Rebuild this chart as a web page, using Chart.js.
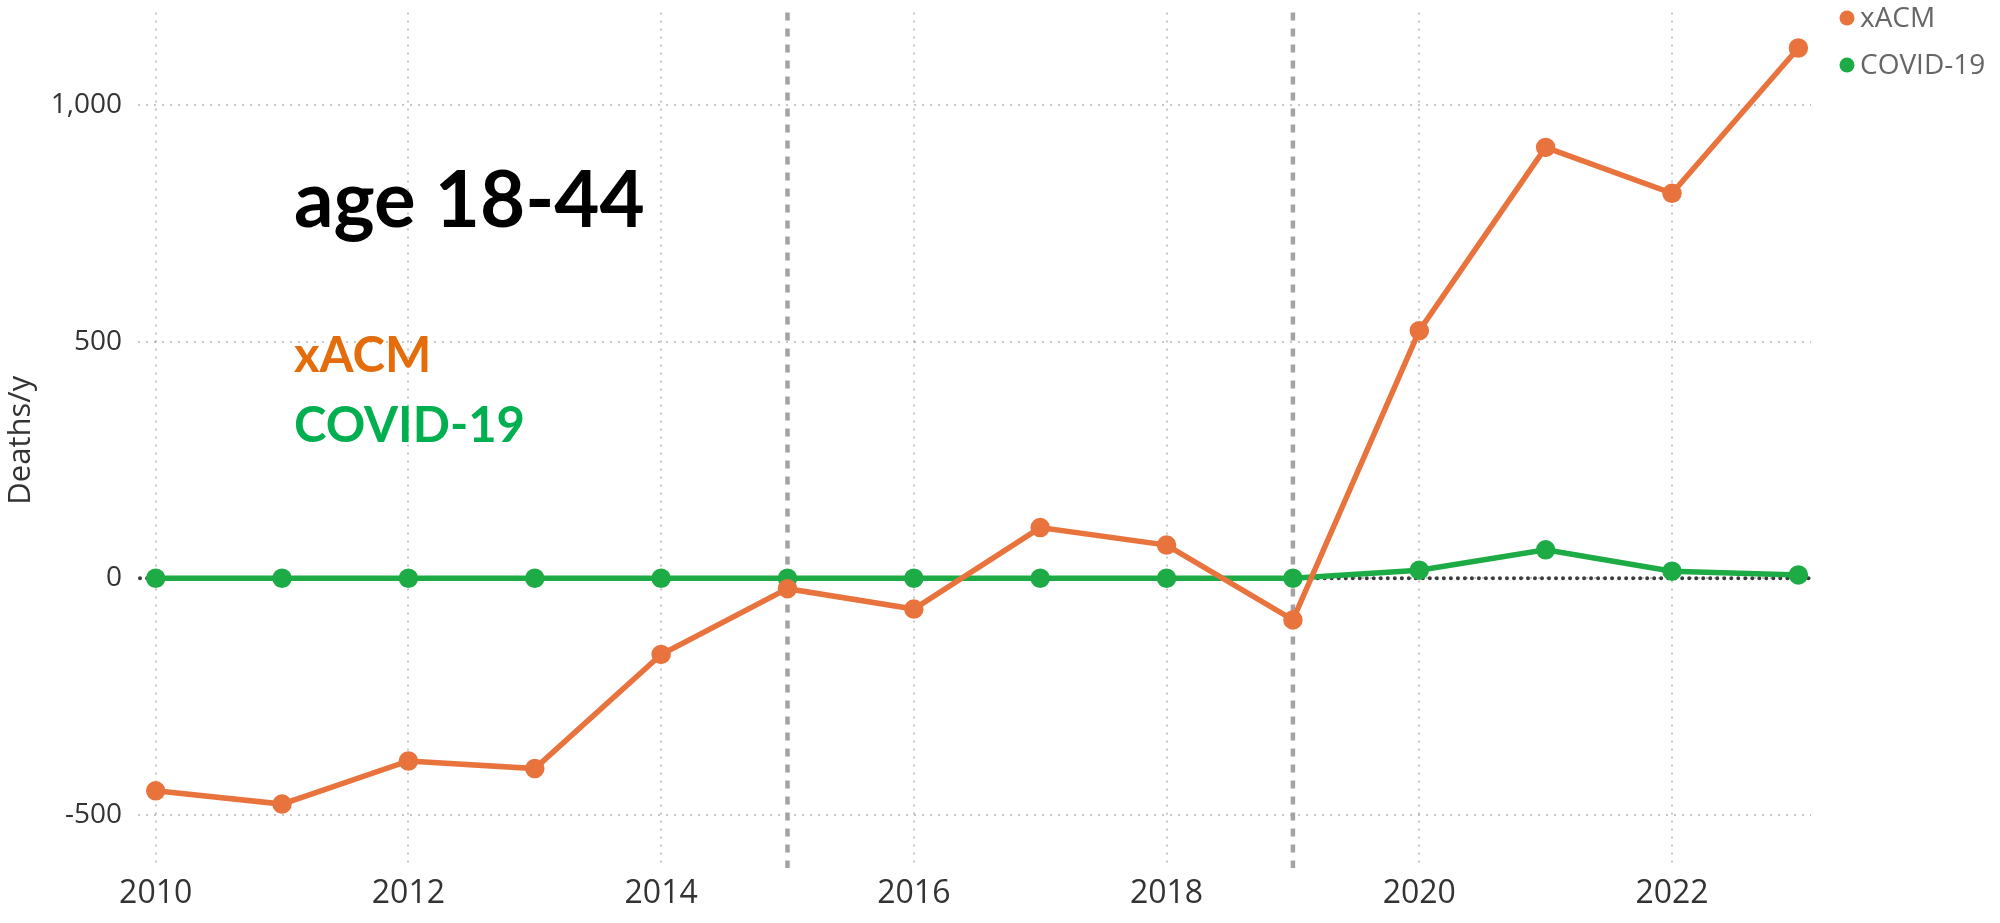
<!DOCTYPE html>
<html>
<head>
<meta charset="utf-8">
<script src="https://cdn.jsdelivr.net/npm/chart.js@4.4.1/dist/chart.umd.min.js"></script>
<style>
    body { margin:0; background:#fff; }
    #wrap { width:2000px; height:923px; position:relative; }
</style>
</head>
<body>
<div id="wrap"><canvas id="chart"></canvas></div>
<script>
// values (deaths per year, excess vs. COVID-19)
var years = [2010, 2011, 2012, 2013, 2014, 2015, 2016, 2017, 2018, 2019, 2020, 2021, 2022, 2023];
var xacm  = [-449, -477, -386, -402, -161, -22, -65, 107, 70, -88, 523, 910, 813, 1120];
var covid = [0, 0, 0, 0, 0, 0, 0, 0, 0, 0, 17, 60, 15, 7];

var xTicks = [2010, 2012, 2014, 2016, 2018, 2020, 2022];
var yTicks = [-500, 0, 500, 1000];
var markerYears = [2015, 2019];   // grey dashed verticals

var seriesNames = ['xACM', 'COVID-19'];
var seriesColors = ['#E8733D', '#1DAB45'];

function points(vals){
    var out = [];
    for(var i = 0; i < years.length; i++){
        out.push({x: years[i], y: vals[i]});
    }
    return out;
}

// zero line + dashed year markers, under the lines
var refLines = {
    id: 'refLines',
    beforeDatasetsDraw: function(chart){
        var ctx = chart.ctx, a = chart.chartArea;
        var xs = chart.scales.x, ys = chart.scales.y;
        ctx.save();
        ctx.strokeStyle = '#A3A3A3';
        ctx.lineWidth = 4.5;
        ctx.setLineDash([8, 8]);
        markerYears.forEach(function(yr){
            var px = xs.getPixelForValue(yr);
            ctx.beginPath();
            ctx.moveTo(px, a.top);
            ctx.lineTo(px, a.bottom);
            ctx.stroke();
        });
        var zy = ys.getPixelForValue(0);
        ctx.strokeStyle = '#3C3C3C';
        ctx.lineWidth = 4;
        ctx.lineCap = 'round';
        ctx.setLineDash([0.01, 7]);
        ctx.beginPath();
        ctx.moveTo(a.left + 2, zy);
        ctx.lineTo(a.right, zy);
        ctx.stroke();
        ctx.restore();
    }
};

// big labels inside the plot and the legend at the top right
var textBits = {
    id: 'textBits',
    afterDraw: function(chart){
        var ctx = chart.ctx;
        ctx.save();
        ctx.textBaseline = 'alphabetic';
        ctx.textAlign = 'left';
        ctx.fillStyle = '#000';
        ctx.font = 'bold 78px Lato';
        ctx.fillText('age 18-44', 294, 227);
        ctx.font = 'bold 49px Lato';
        ctx.fillStyle = '#E46C0A';
        ctx.fillText('xACM', 294, 372);
        ctx.fillStyle = '#00B050';
        ctx.fillText('COVID-19', 294, 442);

        ctx.font = '28px "Open Sans"';
        ctx.textBaseline = 'middle';
        chart.data.datasets.forEach(function(ds, i){
            var cy = 18 + i * 47;
            ctx.fillStyle = ds.borderColor;
            ctx.beginPath();
            ctx.arc(1847, cy, 7.5, 0, Math.PI * 2);
            ctx.fill();
            ctx.fillStyle = '#666';
            ctx.fillText(ds.label, 1860, cy + 1);
        });
        ctx.restore();
    }
};

var gridCol = 'rgba(0,0,0,0.22)';

var graph = new Chart(document.getElementById('chart'), {
    type: 'line',
    data: {
        datasets: [{
            label: seriesNames[0],
            data: points(xacm),
            borderColor: seriesColors[0],
            backgroundColor: seriesColors[0],
            borderWidth: 5.5,
            pointRadius: 7,
            pointHoverRadius: 7,
            tension: 0
        }, {
            label: seriesNames[1],
            data: points(covid),
            borderColor: seriesColors[1],
            backgroundColor: seriesColors[1],
            borderWidth: 5.5,
            pointRadius: 7,
            pointHoverRadius: 7,
            tension: 0
        }]
    },
    options: {
        responsive: true,
        maintainAspectRatio: false,
        devicePixelRatio: 1,
        animation: false,
        layout: { padding: { top: 10, right: 189, bottom: 0, left: 0 } },
        plugins: {
            legend: { display: false },
            tooltip: { enabled: false }
        },
        scales: {
            x: {
                type: 'linear',
                min: 2009.86,
                max: 2023.1,
                afterBuildTicks: function(s){ s.ticks = xTicks.map(function(v){ return {value: v}; }); },
                afterFit: function(s){ s.height = 55; },
                ticks: {
                    padding: 7,
                    color: '#333',
                    font: { family: 'Open Sans', size: 32 },
                    maxRotation: 0,
                    callback: function(v){ return String(v); }
                },
                grid: { color: gridCol, lineWidth: 2, drawTicks: false },
                border: { display: false, dash: [2, 6] }
            },
            y: {
                min: -612,
                max: 1195,
                afterBuildTicks: function(s){ s.ticks = yTicks.map(function(v){ return {value: v}; }); },
                afterFit: function(s){
                    s.width = 138;
                    s.paddingTop = 0;      // tick labels sit well inside, no extra room needed
                    s.paddingBottom = 0;
                },
                ticks: {
                    padding: 16,
                    color: '#333',
                    font: { family: 'Open Sans', size: 28 },
                    callback: function(v){ return v.toLocaleString('en-US'); }
                },
                title: {
                    display: true,
                    text: 'Deaths/y',
                    color: '#333',
                    font: { family: 'Open Sans', size: 31 },
                    padding: { top: 3, bottom: 0 }
                },
                grid: { color: gridCol, lineWidth: 2, drawTicks: false },
                border: { display: false, dash: [2, 6] }
            }
        }
    },
    plugins: [refLines, textBits]
});
</script>
</body>
</html>
